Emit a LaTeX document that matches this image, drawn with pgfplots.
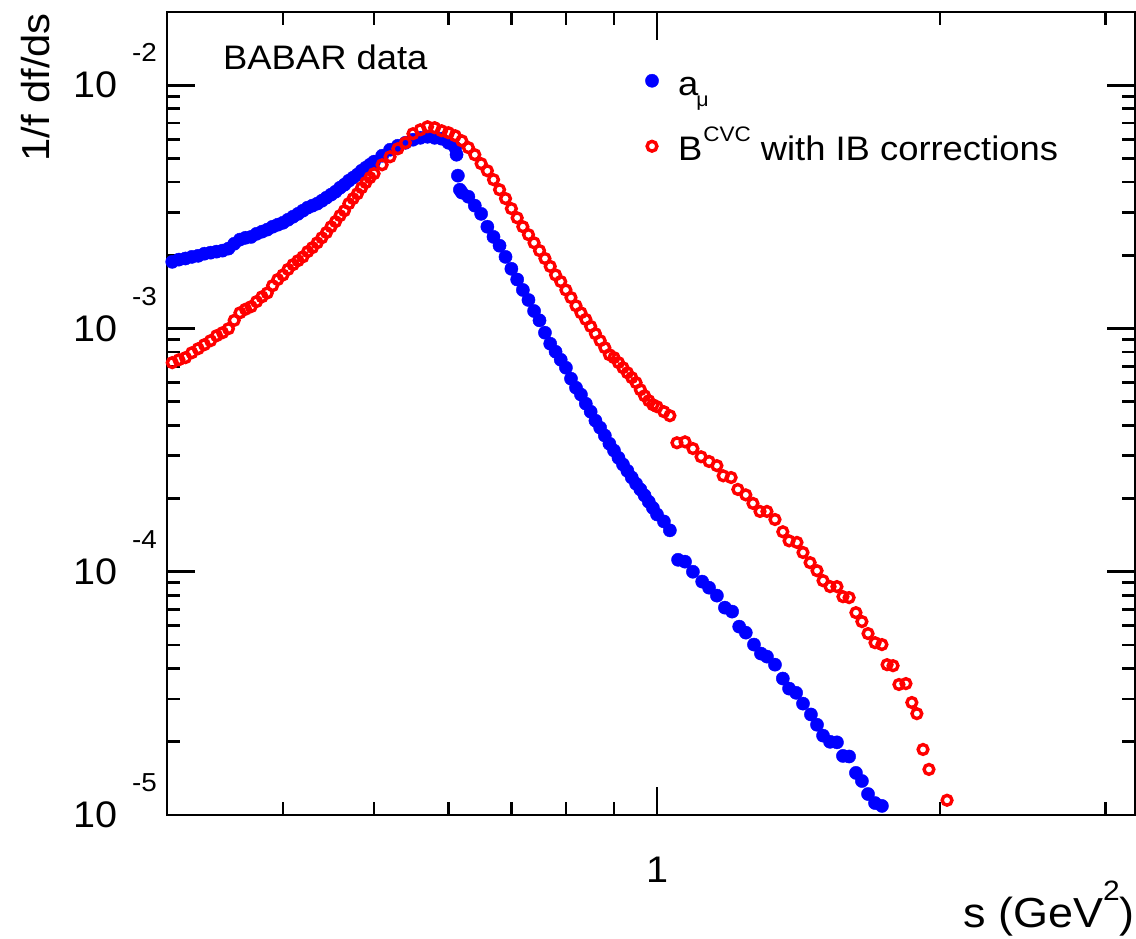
\documentclass[border=0pt]{standalone}
\usepackage{fontspec}
\setmainfont{Liberation Sans}[FakeStretch=1.07]
\usepackage{pgfplots}
\pgfplotsset{compat=1.18}
\newcommand\fs[1]{\fontsize{#1}{#1}\selectfont}
\newcommand\tenexp[1]{{\fs{37}10}\hspace{15pt}\smash{\raisebox{36pt}{\fs{26}#1}}}
\newcommand\legtext[1]{\rule{0pt}{30pt}\smash{#1}}
\begin{document}
\begin{tikzpicture}
\useasboundingbox (-167pt,-123pt) rectangle (969pt,815pt);
\begin{axis}[
  at={(0pt,0pt)}, anchor=south west,
  scale only axis, width=968pt, height=803pt,
  xmode=log, ymode=log,
  xmin=0.3011, xmax=3.225, ymin=1e-5, ymax=0.02,
  axis line style={line width=2.8pt},
  every tick/.style={black, line width=2.8pt},
  major tick length=28pt, minor tick length=13pt,
  xtick={1}, xticklabels={1},
  minor xtick={0.4,0.5,0.6,0.7,0.8,0.9,2,3},
  ytick={1e-5,1e-4,1e-3,1e-2},
  yticklabels={\tenexp{-5},\tenexp{-4},\tenexp{-3},\tenexp{-2}},
  minor ytick={2e-5,3e-5,4e-5,5e-5,6e-5,7e-5,8e-5,9e-5,2e-4,3e-4,4e-4,5e-4,6e-4,7e-4,8e-4,9e-4,2e-3,3e-3,4e-3,5e-3,6e-3,7e-3,8e-3,9e-3},
  xticklabel style={font=\fs{37}, inner sep=0pt, anchor=north, yshift=-42pt},
  yticklabel style={inner sep=0pt, anchor=east, xshift=-10pt},
  xlabel={s (GeV\raisebox{27pt}{\fs{28}2})},
  xlabel style={font=\fs{42}, at={([yshift=-112pt]rel axis cs:1,0)}, anchor=base east, inner sep=0pt},
  ylabel={1/f df/ds},
  ylabel style={font=\fs{39}, at={([xshift=-117pt,yshift=-1pt]rel axis cs:0,1)}, anchor=base east, inner sep=0pt},
  legend style={at={(rel axis cs:0.4866,0.934)}, anchor=north west, draw=none, fill=none, font=\fs{34}, row sep=34pt, column sep=0pt, inner sep=0pt, outer sep=0pt, nodes={inner sep=0pt, outer sep=0pt}},
  legend cell align=left,
  legend image code/.code={\path[draw=none, fill=none] (-14pt,-6pt) rectangle (26pt,6pt); \draw[#1] plot coordinates {(0pt,0pt)};},
]
\addplot[only marks, mark=*, blue, mark size=6.6pt, mark options={line width=0.4pt}] coordinates {
(0.305,1.88e-3)(0.31,1.92e-3)(0.315,1.94e-3)(0.32,1.97e-3)(0.325,1.99e-3)(0.33,2.03e-3)(0.335,2.05e-3)(0.34,2.07e-3)(0.345,2.09e-3)(0.35,2.13e-3)
(0.355,2.23e-3)(0.36,2.32e-3)(0.365,2.36e-3)(0.37,2.38e-3)(0.375,2.45e-3)(0.38,2.50e-3)(0.385,2.55e-3)(0.39,2.62e-3)(0.395,2.67e-3)(0.40,2.72e-3)
(0.405,2.80e-3)(0.41,2.88e-3)(0.415,2.96e-3)(0.42,3.05e-3)(0.425,3.14e-3)(0.43,3.20e-3)(0.435,3.26e-3)(0.44,3.35e-3)(0.445,3.45e-3)(0.45,3.55e-3)
(0.455,3.65e-3)(0.46,3.79e-3)(0.465,3.90e-3)(0.47,4.05e-3)(0.475,4.17e-3)(0.48,4.29e-3)(0.485,4.45e-3)(0.49,4.58e-3)(0.495,4.71e-3)(0.50,4.85e-3)
(0.51,5.13e-3)(0.52,5.43e-3)(0.53,5.64e-3)(0.54,5.80e-3)(0.55,5.97e-3)(0.56,6.08e-3)(0.57,6.14e-3)(0.58,6.08e-3)(0.59,6.03e-3)(0.60,5.80e-3)
(0.61,5.54e-3)(0.612,5.18e-3)(0.614,4.25e-3)(0.617,3.72e-3)(0.62,3.62e-3)(0.63,3.48e-3)(0.64,3.20e-3)(0.65,2.96e-3)(0.66,2.62e-3)(0.67,2.38e-3)
(0.68,2.19e-3)(0.69,1.97e-3)(0.70,1.76e-3)(0.71,1.59e-3)(0.72,1.44e-3)(0.73,1.31e-3)(0.74,1.18e-3)(0.75,1.08e-3)(0.76,9.61e-4)(0.77,8.66e-4)
(0.78,8.03e-4)(0.79,7.44e-4)(0.80,6.90e-4)(0.81,6.22e-4)(0.82,5.71e-4)(0.83,5.35e-4)(0.84,4.91e-4)(0.85,4.55e-4)(0.86,4.18e-4)(0.87,3.91e-4)
(0.88,3.63e-4)(0.89,3.36e-4)(0.90,3.15e-4)(0.91,2.94e-4)(0.92,2.76e-4)(0.93,2.60e-4)(0.94,2.44e-4)(0.95,2.30e-4)(0.96,2.18e-4)(0.97,2.06e-4)
(0.98,1.94e-4)(0.99,1.83e-4)(1.00,1.72e-4)(1.017,1.61e-4)(1.032,1.48e-4)
(1.053,1.12e-4)(1.071,1.10e-4)(1.092,1.00e-4)(1.117,9.11e-5)(1.136,8.60e-5)(1.158,7.98e-5)(1.181,7.12e-5)(1.202,6.86e-5)(1.223,5.95e-5)(1.243,5.62e-5)
(1.268,5.02e-5)(1.290,4.61e-5)(1.309,4.48e-5)(1.335,4.15e-5)(1.361,3.64e-5)(1.382,3.31e-5)(1.406,3.18e-5)(1.430,2.87e-5)(1.458,2.59e-5)(1.480,2.35e-5)
(1.502,2.12e-5)(1.528,2.00e-5)(1.554,1.99e-5)(1.577,1.75e-5)(1.601,1.74e-5)(1.628,1.49e-5)(1.652,1.38e-5)(1.677,1.22e-5)(1.706,1.12e-5)(1.735,1.09e-5)
};
\addlegendentry{\legtext{a\hspace{-2pt}\raisebox{-11pt}{\fs{20}μ}}}
\addplot[only marks, mark=o, red, mark size=4.9pt, mark options={line width=3.4pt}] coordinates {
(0.305,7.24e-4)(0.31,7.44e-4)(0.315,7.59e-4)(0.32,7.95e-4)(0.325,8.26e-4)(0.33,8.58e-4)(0.335,8.91e-4)(0.34,9.34e-4)(0.345,9.61e-4)(0.35,9.98e-4)
(0.355,1.08e-3)(0.36,1.16e-3)(0.365,1.20e-3)(0.37,1.23e-3)(0.375,1.29e-3)(0.38,1.35e-3)(0.385,1.40e-3)(0.39,1.50e-3)(0.395,1.59e-3)(0.40,1.66e-3)
(0.405,1.75e-3)(0.41,1.83e-3)(0.415,1.90e-3)(0.42,1.97e-3)(0.425,2.07e-3)(0.43,2.15e-3)(0.435,2.25e-3)(0.44,2.36e-3)(0.445,2.48e-3)(0.45,2.62e-3)
(0.455,2.75e-3)(0.46,2.91e-3)(0.465,3.05e-3)(0.47,3.26e-3)(0.475,3.42e-3)(0.48,3.58e-3)(0.485,3.79e-3)(0.49,3.98e-3)(0.495,4.17e-3)(0.50,4.33e-3)
(0.51,4.71e-3)(0.52,5.08e-3)(0.53,5.48e-3)(0.54,5.80e-3)(0.55,6.32e-3)(0.56,6.56e-3)(0.57,6.75e-3)(0.58,6.69e-3)(0.59,6.50e-3)(0.60,6.38e-3)
(0.61,6.20e-3)(0.62,5.91e-3)(0.63,5.54e-3)(0.64,5.18e-3)(0.65,4.76e-3)(0.66,4.45e-3)(0.67,4.09e-3)(0.68,3.72e-3)(0.69,3.42e-3)(0.70,3.11e-3)
(0.71,2.85e-3)(0.72,2.62e-3)(0.73,2.43e-3)(0.74,2.25e-3)(0.75,2.09e-3)(0.76,1.94e-3)(0.77,1.80e-3)(0.78,1.66e-3)(0.79,1.56e-3)(0.80,1.44e-3)
(0.81,1.34e-3)(0.82,1.24e-3)(0.83,1.16e-3)(0.84,1.09e-3)(0.85,1.02e-3)(0.86,9.52e-4)(0.87,8.91e-4)(0.88,8.34e-4)(0.89,7.80e-4)(0.90,7.59e-4)
(0.91,7.24e-4)(0.92,6.90e-4)(0.93,6.58e-4)(0.94,6.28e-4)(0.95,5.99e-4)(0.96,5.60e-4)(0.97,5.29e-4)(0.98,5.05e-4)(0.99,4.86e-4)(1.00,4.77e-4)
(1.017,4.55e-4)(1.032,4.38e-4)
(1.050,3.39e-4)(1.071,3.42e-4)(1.092,3.21e-4)(1.114,2.97e-4)(1.136,2.84e-4)(1.158,2.73e-4)(1.176,2.48e-4)(1.199,2.44e-4)(1.219,2.18e-4)(1.243,2.07e-4)
(1.265,1.91e-4)(1.287,1.77e-4)(1.309,1.77e-4)(1.335,1.64e-4)(1.361,1.46e-4)(1.382,1.34e-4)(1.409,1.32e-4)(1.430,1.20e-4)(1.455,1.09e-4)(1.480,1.01e-4)
(1.502,9.19e-5)(1.528,8.69e-5)(1.554,8.69e-5)(1.577,7.90e-5)(1.601,7.83e-5)(1.628,6.79e-5)(1.652,6.24e-5)(1.677,5.57e-5)(1.706,5.11e-5)(1.735,5.02e-5)
(1.757,4.15e-5)(1.783,4.11e-5)(1.809,3.44e-5)(1.840,3.47e-5)(1.867,2.90e-5)(1.890,2.61e-5)(1.919,1.86e-5)(1.947,1.54e-5)(2.035,1.15e-5)
};
\addlegendentry{\legtext{B\hspace{1pt}\raisebox{19pt}{\fs{21}CVC} with IB corrections}}
\node[anchor=base west, font=\fs{34}, inner sep=0pt] at ([xshift=56pt,yshift=-57pt]rel axis cs:0,1) {BABAR data};
\end{axis}
\end{tikzpicture}
\end{document}
